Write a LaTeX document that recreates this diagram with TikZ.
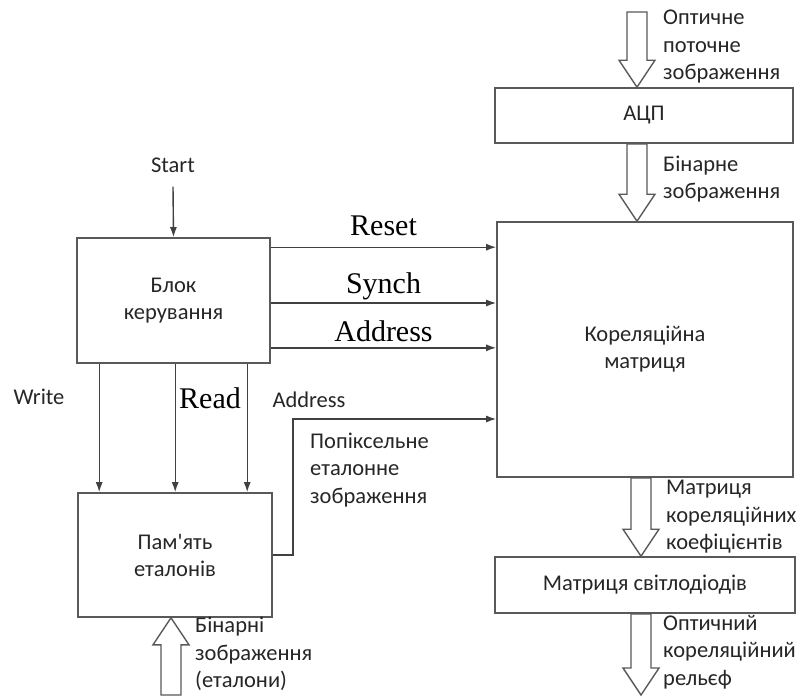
\documentclass[tikz,border=0pt]{standalone}
\usepackage{fontspec}
\setmainfont{Liberation Serif}
\newfontfamily\calib{Carlito}
\usetikzlibrary{arrows.meta,calc,positioning}

% wide hollow arrow: #1 start, #2 tip, #3 = 1 down / -1 up
\newcommand{\blockarrow}[3]{%
  \draw[fatarrow] ($(#1)+(-10,0)$) -- ($(#2)+(-10,{-27*(#3)})$)
    -- ($(#2)+(-18,{-27*(#3)})$) -- (#2) -- ($(#2)+(18,{-27*(#3)})$)
    -- ($(#2)+(10,{-27*(#3)})$) -- ($(#1)+(10,0)$) -- cycle;}

\begin{document}
\begin{tikzpicture}[
    x=1pt, y=-1pt,
    block/.style={rectangle, draw=black!65, line width=1.6pt, text=black!85, font=\calib\fontsize{22.5}{27}\selectfont, align=center, inner sep=0pt},
    line/.style={draw=black!75, line width=1.4pt, -{Latex[length=10pt,width=7pt]}},
    fatarrow/.style={draw=black!65, line width=1.4pt, fill=white},
    note/.style={font=\calib\fontsize{22.5}{27.5}\selectfont, text=black!85, align=left, inner sep=0pt},
    sig/.style={font=\fontsize{30}{32}\selectfont, inner sep=0pt}
]
\useasboundingbox (0,0) rectangle (805,697);

\node [block, minimum width=298pt, minimum height=55pt] (adc) at (644,115.5) {АЦП};
\node [block, minimum width=296pt, minimum height=255pt] (corr) at (645,349.5) {Кореляційна\\матриця};
\node [block, minimum width=300pt, minimum height=56pt] (led) at (645,585) {Матриця світлодіодів};
\node [block, minimum width=193pt, minimum height=125pt] (ctrl) at (173.5,300.5) {Блок\\керування};
\node [block, minimum width=194pt, minimum height=124pt] (mem) at (175,555) {Пам{\char"27}ять\\еталонів};

% control signals
\node [note] (start) at (173,165) {Start};
\draw [line] ([yshift=-14pt]start.south) -- (ctrl.north);
\draw [line] ([yshift=-10pt]ctrl.north east) -- ([yshift=-10pt]ctrl.north east -| corr.west)
    node [sig, midway, above=11pt] {Reset};
\draw [line] ([yshift=-2.5pt]ctrl.east) -- ([yshift=-2.5pt]ctrl.east -| corr.west)
    node [sig, midway, above=2pt] {Synch};
\draw [line] ([yshift=16pt]ctrl.south east) -- ([yshift=16pt]ctrl.south east -| corr.west)
    node [sig, midway, above=5pt] {Address};

\foreach \dx in {23,99,171}
  \draw [line] ([xshift=\dx pt]ctrl.south west) -- ([xshift=\dx pt]ctrl.south west |- mem.north);
\node [note] (write) at (39,397) {Write};
\node [sig] (read) at (210,398) {Read};
\node [note] (addr) at (309,400) {Address};

\draw [line] (mem.east) -- ++(20,0) |- ([yshift=-69.5pt]corr.west);
\node [note, anchor=west] (pixel) at (310,470) {Попіксельне\\еталонне\\зображення};

% image flow
\coordinate (in1) at (637,12);
\blockarrow{in1}{in1 |- adc.north}{1}
\blockarrow{in1 |- adc.south}{in1 |- corr.north}{1}
\coordinate (out) at (641,695);
\blockarrow{out |- corr.south}{out |- led.north}{1}
\blockarrow{out |- led.south}{out}{1}
\coordinate (ref) at (171,695);
\blockarrow{ref}{ref |- mem.south}{-1}

\node [note, anchor=west] (optin) at (663,47) {Оптичне\\поточне\\зображення};
\node [note, anchor=west] (binin) at (663,179) {Бінарне\\зображення};
\node [note, anchor=west] (coef) at (666,517) {Матриця\\кореляційних\\коефіцієнтів};
\node [note, anchor=west] (relief) at (663,652) {Оптичний\\кореляційний\\рельєф};
\node [note, anchor=west] (binref) at (195,654) {Бінарні\\зображення\\(еталони)};

\end{tikzpicture}
\end{document}
